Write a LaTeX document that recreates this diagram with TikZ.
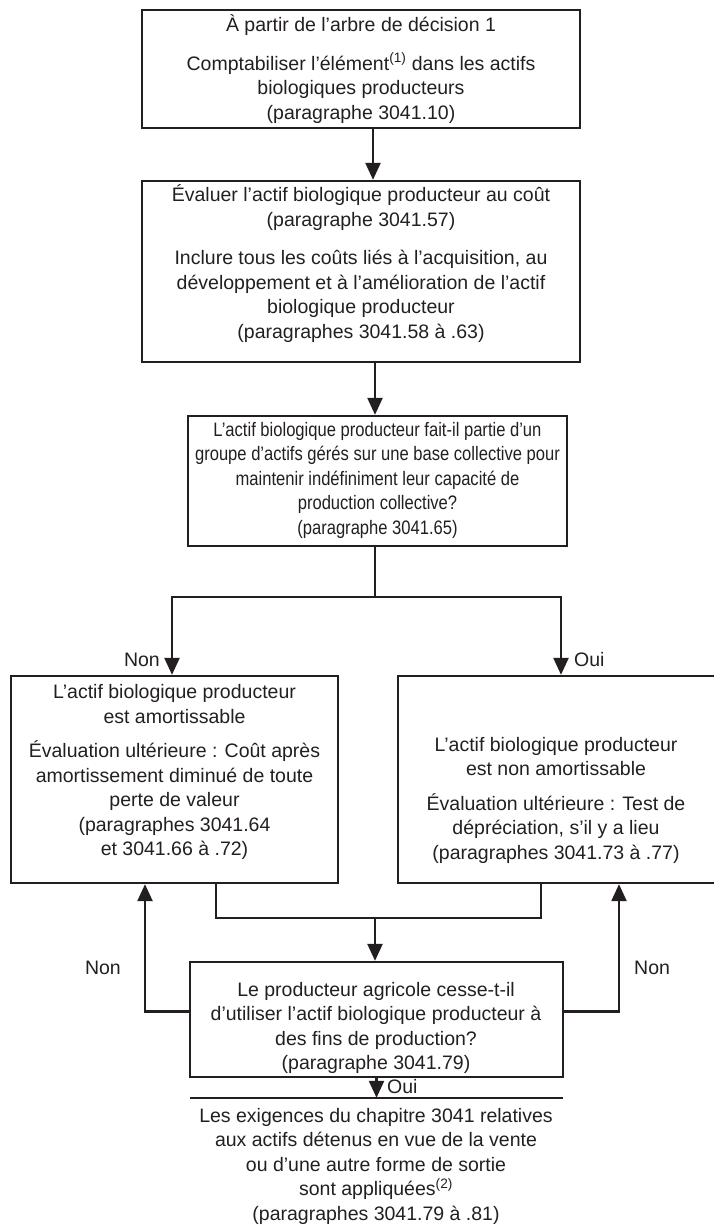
\documentclass[tikz,border=0pt]{standalone}
\usepackage{fontspec}
\setmainfont{Liberation Sans}
\usetikzlibrary{arrows.meta}
\definecolor{ink}{RGB}{35,31,32}
\begin{document}
\begin{tikzpicture}[x=1pt,y=-1pt,
  box/.style={draw=ink, line width=2.3pt, inner sep=0pt},
  txt/.style={align=center, inner sep=0pt, text=ink, font=\fontsize{19.5}{24.5}\selectfont},
  lbl/.style={inner sep=0pt, text=ink, font=\fontsize{19.5}{24.5}\selectfont},
  line/.style={draw=ink, line width=2.3pt},
  arr/.style={draw=ink, line width=2.3pt, -{Triangle[length=17pt,width=15pt]}}
]
\useasboundingbox (0,0) rectangle (713,1230);

% boxes
\node[box, minimum width=438pt, minimum height=118pt] (b1) at (361,69) {};
\node[box, minimum width=438pt, minimum height=181pt] (b2) at (361,271.5) {};
\node[box, minimum width=379pt, minimum height=130pt] (b3) at (377.5,481) {};
\node[box, minimum width=327pt, minimum height=207pt] (bL) at (174.5,779.5) {};
\node[box, minimum width=332pt, minimum height=207pt] (bR) at (564,779.5) {};
\node[box, minimum width=373pt, minimum height=115pt] (b5) at (376.5,1019.5) {};
\node[minimum width=373pt, minimum height=142pt, inner sep=0pt] (b6) at (376.5,1169) {};
\draw[line] (b6.north west) -- (b6.north east);

% texts
\node[txt] (t1) at (361,69) {À partir de l’arbre de décision 1\\[14pt]
Comptabiliser l’élément\textsuperscript{(1)} dans les actifs\\
biologiques producteurs\\
(paragraphe 3041.10)};
\node[txt] (t2) at (361,263.5) {Évaluer l’actif biologique producteur au coût\\
(paragraphe 3041.57)\\[14pt]
Inclure tous les coûts liés à l’acquisition, au\\
développement et à l’amélioration de l’actif\\
biologique producteur\\
(paragraphes 3041.58 à .63)};
\node[txt, xscale=0.85, transform shape] (t3) at (377.5,480) {L’actif biologique producteur fait-il partie d’un\\
groupe d’actifs gérés sur une base collective pour\\
maintenir indéfiniment leur capacité de\\
production collective?\\
(paragraphe 3041.65)};
\node[txt] (tL) at (174.5,772) {L’actif biologique producteur\\
est amortissable\\[10pt]
Évaluation ultérieure : Coût après\\
amortissement diminué de toute\\
perte de valeur\\
(paragraphes 3041.64\\
et 3041.66 à .72)};
\node[txt] (tR) at (556,800) {L’actif biologique producteur\\
est non amortissable\\[10pt]
Évaluation ultérieure : Test de\\
dépréciation, s’il y a lieu\\
(paragraphes 3041.73 à .77)};
\node[txt] (t5) at (376,1028) {Le producteur agricole cesse-t-il\\
d’utiliser l’actif biologique producteur à\\
des fins de production?\\
(paragraphe 3041.79)};
\node[txt] (t6) at (376,1166) {Les exigences du chapitre 3041 relatives\\
aux actifs détenus en vue de la vente\\
ou d’une autre forme de sortie\\
sont appliquées\textsuperscript{(2)}\\
(paragraphes 3041.79 à .81)};

% labels
\node[lbl, anchor=east] (nonA) at (160,660) {Non};
\node[lbl, anchor=west] (ouiA) at (574,660) {Oui};
\node[lbl, anchor=east] (nonB) at (121,968) {Non};
\node[lbl, anchor=west] (nonC) at (634,968) {Non};
\node[lbl, anchor=west] (ouiB) at (387,1087) {Oui};

% connectors
\draw[arr] ([xshift=12pt]b1.south) -- ([xshift=12pt]b2.north);
\draw[arr] ([xshift=14pt]b2.south) -- ([xshift=14pt]b2.south |- b3.north);
\coordinate (sp) at (375,597);
\draw[line] (b3.south -| sp) -- (sp);
\draw[arr] (sp) -| ([xshift=-2.5pt]bL.north);
\draw[arr] (sp) -| ([xshift=-3pt]bR.north);
\coordinate (jn) at (375,918);
\draw[line] ([xshift=41.5pt]bL.south) |- (jn) -| ([xshift=-23pt]bR.south);
\draw[arr] (jn) -- (jn |- b5.north);
\draw[arr] ([yshift=8pt]b5.west) -| ([xshift=-29.5pt]bL.south);
\draw[arr] ([yshift=8pt]b5.east) -| ([xshift=55pt]bR.south);
\draw[arr] (b5.south) -- (b5.south |- b6.north);
\end{tikzpicture}
\end{document}
